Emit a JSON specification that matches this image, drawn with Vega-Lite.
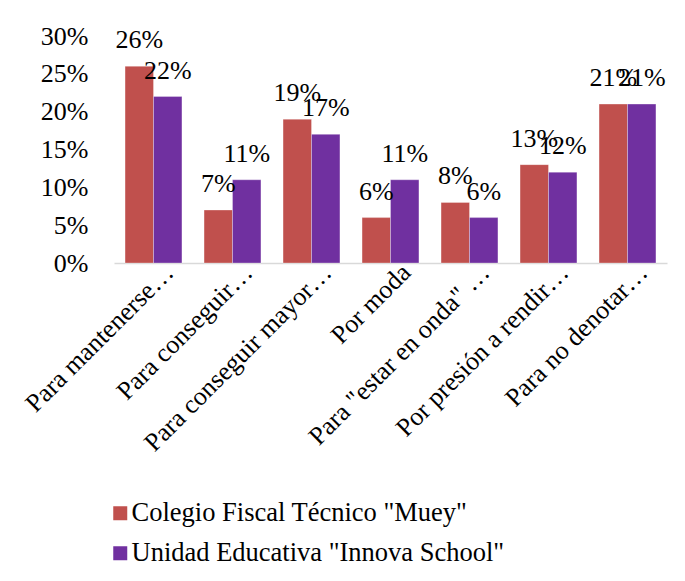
{
  "$schema": "https://vega.github.io/schema/vega-lite/v6.json",
  "width": 553,
  "height": 227,
  "autosize": {"type": "none"},
  "padding": {"left": 114, "top": 36, "right": 18, "bottom": 318},
  "background": "white",
  "config": {
    "font": "Liberation Serif",
    "view": {"stroke": null}
  },
  "data": {
    "values": [
      {"motivo": "Para mantenerse…", "grupo": "Colegio Fiscal Técnico \"Muey\"", "valor": 0.26},
      {"motivo": "Para mantenerse…", "grupo": "Unidad Educativa \"Innova School\"", "valor": 0.22},
      {"motivo": "Para conseguir…", "grupo": "Colegio Fiscal Técnico \"Muey\"", "valor": 0.07},
      {"motivo": "Para conseguir…", "grupo": "Unidad Educativa \"Innova School\"", "valor": 0.11},
      {"motivo": "Para conseguir mayor…", "grupo": "Colegio Fiscal Técnico \"Muey\"", "valor": 0.19},
      {"motivo": "Para conseguir mayor…", "grupo": "Unidad Educativa \"Innova School\"", "valor": 0.17},
      {"motivo": "Por moda", "grupo": "Colegio Fiscal Técnico \"Muey\"", "valor": 0.06},
      {"motivo": "Por moda", "grupo": "Unidad Educativa \"Innova School\"", "valor": 0.11},
      {"motivo": "Para \"estar en onda\" …", "grupo": "Colegio Fiscal Técnico \"Muey\"", "valor": 0.08},
      {"motivo": "Para \"estar en onda\" …", "grupo": "Unidad Educativa \"Innova School\"", "valor": 0.06},
      {"motivo": "Por presión a rendir…", "grupo": "Colegio Fiscal Técnico \"Muey\"", "valor": 0.13},
      {"motivo": "Por presión a rendir…", "grupo": "Unidad Educativa \"Innova School\"", "valor": 0.12},
      {"motivo": "Para no denotar…", "grupo": "Colegio Fiscal Técnico \"Muey\"", "valor": 0.21},
      {"motivo": "Para no denotar…", "grupo": "Unidad Educativa \"Innova School\"", "valor": 0.21}
    ]
  },
  "encoding": {
    "x": {
      "field": "motivo",
      "type": "nominal",
      "sort": null,
      "scale": {"paddingInner": 0.28, "paddingOuter": 0.14},
      "axis": {
        "title": null,
        "labelAngle": -45,
        "labelAlign": "right",
        "labelBaseline": "middle",
        "labelFont": "Liberation Serif",
        "labelFontSize": 26,
        "labelColor": "black",
        "labelPadding": 5,
        "labelOffset": 16,
        "labelLimit": 400,
        "ticks": false,
        "domainColor": "#D9D9D9",
        "domainWidth": 1.5
      }
    },
    "xOffset": {"field": "grupo", "type": "nominal", "sort": null},
    "y": {
      "field": "valor",
      "type": "quantitative",
      "scale": {"domain": [0, 0.3], "nice": false},
      "axis": {
        "title": null,
        "format": ".0%",
        "values": [0, 0.05, 0.1, 0.15, 0.2, 0.25, 0.3],
        "labelFont": "Liberation Serif",
        "labelFontSize": 26,
        "labelColor": "black",
        "labelPadding": 26,
        "ticks": false,
        "domain": false,
        "grid": false
      }
    }
  },
  "layer": [
    {
      "mark": {"type": "bar", "stroke": "#ffffff", "strokeOpacity": 0.4, "strokeWidth": 0.75},
      "encoding": {
        "color": {
          "field": "grupo",
          "type": "nominal",
          "sort": null,
          "scale": {"range": ["#C0504D", "#7030A0"]},
          "legend": {
            "title": null,
            "orient": "none",
            "legendX": -7,
            "legendY": 464,
            "direction": "vertical",
            "symbolType": "square",
            "symbolSize": 196,
            "symbolStrokeWidth": 0,
            "labelFont": "Liberation Serif",
            "labelFontSize": 26.5,
            "labelColor": "black",
            "labelOffset": -2,
            "rowPadding": 13,
            "labelLimit": 500
          }
        }
      }
    },
    {
      "mark": {"type": "text", "font": "Liberation Serif", "fontSize": 26, "color": "black", "baseline": "middle", "dy": -26},
      "encoding": {
        "text": {"field": "valor", "type": "quantitative", "format": ".0%"}
      }
    }
  ]
}
